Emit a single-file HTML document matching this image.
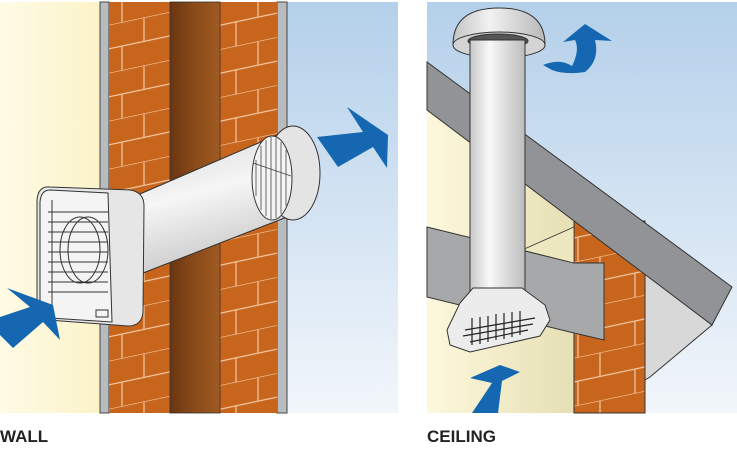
<!DOCTYPE html>
<html><head><style>
html,body{margin:0;padding:0;background:#fff;width:737px;height:453px;overflow:hidden}
.lbl{position:absolute;top:427px;font:bold 17px "Liberation Sans",sans-serif;color:#222}
</style></head><body>
<svg width="737" height="453" style="position:absolute;left:0;top:0">
<defs>
<linearGradient id="cream" x1="0" x2="1"><stop offset="0" stop-color="#fffbe6"/><stop offset="1" stop-color="#fbf3c8"/></linearGradient>
<linearGradient id="sky" x1="0" y1="0" x2="0" y2="1"><stop offset="0" stop-color="#b4d0ea"/><stop offset="1" stop-color="#f2f6fb"/></linearGradient>
<linearGradient id="cav" x1="0" x2="1"><stop offset="0" stop-color="#6a3510"/><stop offset="0.5" stop-color="#8a4a1a"/><stop offset="1" stop-color="#a05a22"/></linearGradient>
<linearGradient id="pipeV" x1="0" x2="1"><stop offset="0" stop-color="#c8c8c8"/><stop offset="0.35" stop-color="#f8f8f8"/><stop offset="1" stop-color="#bcbcbc"/></linearGradient>
<linearGradient id="pipeD" x1="0" y1="0" x2="0.3" y2="1"><stop offset="0" stop-color="#d4d4d4"/><stop offset="0.5" stop-color="#f6f6f6"/><stop offset="1" stop-color="#cacaca"/></linearGradient>
<linearGradient id="wallc" x1="0" x2="1"><stop offset="0" stop-color="#fdf8dc"/><stop offset="1" stop-color="#e6dfb4"/></linearGradient>
<linearGradient id="dome" x1="0" x2="1"><stop offset="0" stop-color="#c4c4c4"/><stop offset="0.4" stop-color="#f2f2f2"/><stop offset="1" stop-color="#b8b8b8"/></linearGradient>
<pattern id="brick" width="57" height="48" patternUnits="userSpaceOnUse" patternTransform="skewY(-12)">
<rect width="57" height="48" fill="#c8651c"/>
<path d="M0 0H57M0 24H57M30 0V24M8 24V48" stroke="#f2c9a4" stroke-width="1.2"/>
</pattern>
</defs>
<!-- LEFT PANEL -->
<rect x="0" y="2" width="100" height="411" fill="url(#cream)"/>
<rect x="287" y="2" width="111" height="411" fill="url(#sky)"/>
<rect x="100" y="2" width="9" height="411" fill="#b9bcbf" stroke="#444" stroke-width="1"/>
<rect x="277" y="2" width="10" height="411" fill="#b9bcbf" stroke="#444" stroke-width="1"/>
<rect x="109" y="2" width="61" height="411" fill="url(#brick)"/>
<rect x="220" y="2" width="57" height="411" fill="url(#brick)"/>
<rect x="170" y="2" width="50" height="411" fill="url(#cav)" stroke="#333" stroke-width="0.8"/>
<!-- pipe -->
<path d="M133 197 L277 135 L287 217 L143 273 Z" fill="url(#pipeD)" stroke="#333"/>
<ellipse cx="293" cy="173" rx="27" ry="47" fill="#e4e4e4" stroke="#333"/>
<ellipse cx="272" cy="178" rx="20" ry="42" fill="#f4f4f4" stroke="#333"/>
<g stroke="#444" stroke-width="0.8">
<path d="M256 160V196M261 146V210M266 140V216M271 137V219M276 138V218M281 142V214M286 150V206"/>
<path d="M253 163L291 176"/>
</g>
<!-- fan -->
<path d="M50 187 L130 190 Q144 192 144 206 L143 312 Q142 326 128 326 L48 320 Q37 318 37 305 L37 200 Q38 186 50 187Z" fill="#e6e6e6" stroke="#333"/>
<path d="M50 190 L108 193 L112 322 L50 318 Q40 316 40 304 L40 202 Q41 190 50 190Z" fill="#f4f4f4" stroke="#333"/>
<g stroke="#333" stroke-width="1" fill="none">
<ellipse cx="88" cy="250" rx="20" ry="33"/>
<ellipse cx="80" cy="250" rx="20" ry="33"/>
<path d="M48 212H108M48 222H108M48 232H108M48 242H108M48 252H108M48 262H108M48 272H108M48 282H108M48 292H108"/>
<path d="M52 200V305"/>
<rect x="96" y="310" width="12" height="7"/>
</g>
<!-- arrows -->
<path d="M317 137 L363 132 L347 107 L388 135 L387 168 L373 147 L338 167 Z" fill="#1467b0"/>
<path d="M0 317 L30 307 L7 288 L53 305 L60 340 L43 322 L13 348 L0 335 Z" fill="#1467b0"/>

<!-- RIGHT PANEL -->
<rect x="427" y="2" width="310" height="411" fill="url(#sky)"/>
<!-- house wall cream -->
<path d="M427 110 L574 221 L574 413 L427 413 Z" fill="url(#wallc)"/>
<!-- facade light grey -->
<path d="M645 274 L712 325 L650 377 L645 380 Z" fill="#d8d8d8" stroke="#333"/>
<!-- bricks -->
<rect x="574" y="221" width="71" height="192" fill="url(#brick)" stroke="#333"/>
<!-- grey ceiling band -->
<path d="M427 227 L574 263 L604 263 L604 340 L574 333 L427 297 Z" fill="#a7a8aa" stroke="#333"/>
<path d="M522 250 L574 227 L574 263Z" fill="#eee8c0" stroke="#333" stroke-width="0.8"/>
<!-- roof -->
<path d="M427 62 L732 287 L712 325 L427 110 Z" fill="#929396" stroke="#333"/>
<!-- cap -->
<path d="M453 45 Q453 8 499 8 Q545 8 545 45 Z" fill="url(#dome)" stroke="#333"/>
<ellipse cx="499" cy="45" rx="46" ry="13" fill="#d4d4d4" stroke="#333"/>
<ellipse cx="498" cy="41" rx="30" ry="7" fill="#555" stroke="#333"/>
<!-- vertical pipe -->
<rect x="470" y="40" width="55" height="252" fill="url(#pipeV)" stroke="#333"/>
<!-- ceiling fan -->
<path d="M473 288 L522 288 L545 305 L550 320 L540 336 L470 352 L450 345 L447 330 L460 303Z" fill="#ececec" stroke="#333"/>
<g stroke="#222" stroke-width="1.2" fill="none">
<path d="M465 330L535 318M463 336L533 324M470 342L528 330"/>
<path d="M472 318V345M480 317V344M488 316V342M496 314V340M504 313V339M512 312V337M520 311V335"/>
</g>
<!-- ceiling arrows -->
<path d="M472 413 L492 383 L470 378 L500 365 L520 372 L502 381 L498 413 Z" fill="#1467b0"/>
<path d="M543 65 Q560 58 572 66 Q580 50 575 40 L563 42 L585 24 L612 41 L595 40 Q600 60 585 72 Q565 75 552 70 Z" fill="#1467b0"/>
</svg>
<div class="lbl" style="left:0">WALL</div>
<div class="lbl" style="left:427px">CEILING</div>
</body></html>
